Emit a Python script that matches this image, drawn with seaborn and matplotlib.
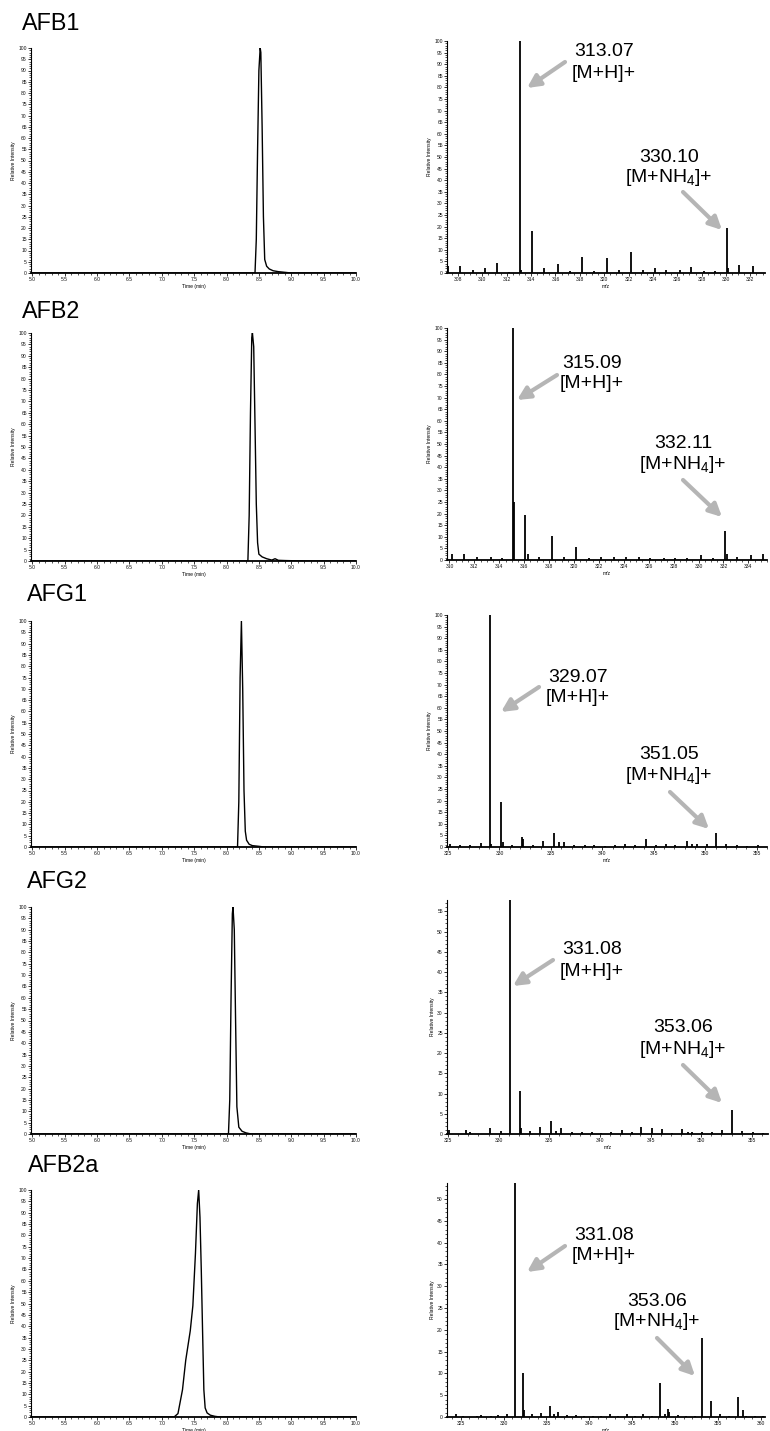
import numpy as np
import pandas as pd
import matplotlib
matplotlib.use("Agg")
import matplotlib.pyplot as plt
import seaborn as sns
from matplotlib.ticker import MultipleLocator, FormatStrFormatter

W, H = 770, 1431

compounds = ["AFB1", "AFB2", "AFG1", "AFG2", "AFB2a"]

# --- extracted ion chromatograms (time in min, relative intensity in %) ---
afb1_time = [5.0, 8.44, 8.46, 8.48, 8.50, 8.52, 8.53, 8.55, 8.57, 8.59, 8.62, 8.66, 8.72, 8.80, 8.90, 9.00, 10.0]
afb1_int = [0, 0, 15, 55, 90, 100, 98, 65, 25, 6, 3, 1.8, 1.0, 0.6, 0.3, 0, 0]

afb2_time = [5.0, 8.33, 8.35, 8.37, 8.39, 8.40, 8.42, 8.44, 8.46, 8.48, 8.50, 8.55, 8.62, 8.70, 8.75, 8.80, 8.90, 9.20, 10.0]
afb2_int = [0, 0, 20, 65, 98, 100, 94, 60, 25, 8, 3, 1.8, 1.0, 0.4, 1.0, 0.3, 0.2, 0, 0]

afg1_time = [5.0, 8.17, 8.19, 8.21, 8.23, 8.25, 8.27, 8.29, 8.31, 8.35, 8.40, 8.50, 8.58, 10.0]
afg1_int = [0, 0, 20, 75, 100, 70, 25, 7, 3, 1.2, 0.6, 0.3, 0, 0]

afg2_time = [5.0, 8.03, 8.05, 8.07, 8.09, 8.10, 8.12, 8.14, 8.16, 8.19, 8.24, 8.30, 8.38, 10.0]
afg2_int = [0, 0, 15, 60, 97, 100, 90, 50, 12, 3, 1.2, 0.5, 0, 0]

afb2a_time = [5.0, 7.19, 7.25, 7.32, 7.37, 7.44, 7.48, 7.52, 7.55, 7.57, 7.59, 7.61, 7.63, 7.65, 7.67, 7.70, 7.75, 7.82, 7.90, 10.0]
afb2a_int = [0, 0, 1.5, 12, 25, 38, 49, 72, 94, 100, 88, 65, 38, 12, 4, 1.8, 0.8, 0.3, 0, 0]

# --- mass spectra (m/z, relative intensity in %) ---
afb1_mz = [307.2, 308.2, 309.2, 310.2, 311.2, 312.2, 313.1, 313.2, 314.1, 315.1, 316.2, 317.2, 318.2,
           319.2, 320.2, 321.2, 322.2, 323.2, 324.2, 325.1, 326.2, 327.1, 328.2, 329.1, 330.1, 330.2,
           331.1, 332.2]
afb1_ab = [2.9, 3, 1.5, 2, 4.5, 0.5, 100, 1.5, 18, 2, 4, 1, 7,
           0.8, 6.5, 1.5, 9, 1.5, 2, 1.5, 1.5, 2.5, 1, 1, 19.5, 2,
           3.5, 3]

afb2_mz = [310.2, 311.2, 312.2, 313.3, 314.2, 315.1, 315.15, 316.1, 316.3, 317.2, 318.2, 319.2, 320.2,
           321.2, 322.2, 323.2, 324.2, 325.2, 326.1, 327.2, 328.1, 329.1, 330.2, 331.2, 332.1, 332.3,
           333.1, 334.2, 335.2]
afb2_ab = [2.4, 2.4, 1.5, 1.5, 1, 100, 25, 19.5, 2.5, 1.5, 10.5, 1.5, 5.5,
           1, 1.5, 1.5, 1.5, 1.5, 0.8, 1, 1, 1, 2, 1, 12.5, 2.5,
           1.5, 2, 2.5]

afg1_mz = [325.2, 326.2, 327.1, 328.2, 329.1, 329.2, 330.1, 330.3, 331.2, 332.2, 332.3, 333.3, 334.2,
           335.3, 335.8, 336.3, 337.2, 338.3, 339.2, 340.3, 341.2, 342.2, 343.2, 344.2, 345.2, 346.2,
           347.1, 348.2, 348.7, 349.2, 350.2, 351.0, 352.0, 353.1, 354.1, 355.1]
afg1_ab = [1.5, 1, 1, 1.8, 100, 1.5, 19.5, 2, 1, 4.5, 3.5, 1, 2.5,
           6, 2.2, 2.2, 1, 0.8, 0.8, 0.5, 1, 1.2, 1, 3.5, 1, 1.5,
           0.8, 2.5, 1.2, 1.5, 1.2, 6, 1.2, 0.8, 0.5, 1]

afg2_mz = [325.1, 326.8, 327.2, 329.1, 330.2, 331.1, 332.1, 332.2, 333.1, 334.1, 335.2, 335.7, 336.2,
           337.2, 338.2, 339.2, 340.1, 341.1, 342.2, 343.2, 344.1, 345.1, 346.1, 347.1, 348.1, 348.7,
           349.1, 350.1, 351.1, 352.1, 353.0, 354.0, 355.1, 356.1]
afg2_ab = [1, 1, 0.6, 1.5, 0.8, 100, 10.5, 1.5, 0.8, 1.8, 3.3, 0.8, 1.5,
           0.6, 0.6, 0.6, 0.3, 0.6, 1, 0.5, 1.7, 1.5, 1.2, 0.3, 1.2, 0.6,
           0.5, 0.5, 0.6, 1, 5.9, 0.8, 0.5, 0.3]

afb2a_mz = [324.4, 325.3, 326.9, 327.4, 328.5, 329.4, 330.4, 331.3, 332.3, 332.4, 333.3, 334.4, 335.4,
            335.9, 336.4, 337.4, 338.4, 339.4, 340.4, 341.4, 342.4, 343.4, 344.4, 345.3, 346.3, 347.3,
            348.2, 348.8, 349.2, 349.3, 350.4, 351.3, 352.3, 353.2, 354.2, 355.2, 356.3, 357.4, 357.9,
            358.3, 359.3, 360.3]
afb2a_ab = [0.6, 0.3, 0.3, 0.5, 0.3, 0.5, 0.8, 100, 10, 1.5, 0.8, 1, 2.5,
            0.8, 1.2, 0.5, 0.5, 0.3, 0.3, 0.3, 0.8, 0.3, 0.8, 0.3, 0.6, 0.3,
            7.9, 0.8, 1.8, 1.2, 0.5, 0.3, 0.3, 18.2, 3.6, 0.6, 0.3, 4.6, 1.5,
            0.3, 0.3, 0.3]

chrom_time = [afb1_time, afb2_time, afg1_time, afg2_time, afb2a_time]
chrom_int = [afb1_int, afb2_int, afg1_int, afg2_int, afb2a_int]
spec_mz = [afb1_mz, afb2_mz, afg1_mz, afg2_mz, afb2a_mz]
spec_ab = [afb1_ab, afb2_ab, afg1_ab, afg2_ab, afb2a_ab]

mh_labels = ["313.07", "315.09", "329.07", "331.08", "331.08"]
nh4_labels = ["330.10", "332.11", "351.05", "353.06", "353.06"]

# --- layout (pixels, from top-left) ---
chrom_boxes = [(31, 48, 356, 273), (31, 333, 356, 561), (31, 621, 356, 847),
               (31, 907, 356, 1134), (31, 1190, 356, 1417)]
spec_boxes = [(447, 41, 765, 273), (447, 328, 767, 560), (447, 615, 767, 847),
              (447, 900, 768, 1134), (447, 1183, 765, 1417)]
spec_xlim = [(307.1, 333.2), (309.8, 335.5), (324.9, 356.0), (324.9, 356.6), (323.4, 360.5)]
spec_ylim = [100, 100, 100, 57.8, 53.7]
spec_xmajor = [2, 2, 5, 5, 5]
spec_xminor = [0.5, 0.5, 1, 1, 1]
title_pos = [(22, 23), (22, 311), (27, 595), (27, 882), (28, 1165)]
mh_text = [(604, 52), (592, 363), (578, 677), (592, 950), (604, 1235)]
mh_arrow = [((565, 62), (527, 88)), ((557, 375), (517, 400)), ((539, 687), (501, 712)),
            ((553, 960), (513, 986)), ((565, 1246), (527, 1272))]
nh4_text = [(669, 157), (683, 443), (669, 755), (683, 1028), (657, 1301)]
nh4_arrow = [((683, 192), (722, 230)), ((683, 480), (722, 517)), ((670, 792), (709, 829)),
             ((683, 1065), (722, 1103)), ((657, 1338), (695, 1376))]


def rect(box):
    l, t, r, b = box
    return [l / W, 1 - b / H, (r - l) / W, (b - t) / H]


def fpos(p):
    return (p[0] / W, 1 - p[1] / H)


def style_axis(ax):
    sns.despine(ax=ax)
    ax.spines["left"].set_linewidth(0.8)
    ax.spines["bottom"].set_linewidth(1.3)
    ax.spines["left"].set_color("black")
    ax.spines["bottom"].set_color("black")
    ax.tick_params(which="major", length=2.2, width=0.6, labelsize=3.6, pad=0.8, colors="#111111")
    ax.tick_params(which="minor", length=1.3, width=0.5, colors="#111111")


sns.set_theme(style="ticks")
plt.rcParams["font.family"] = ["Liberation Sans", "DejaVu Sans"]
plt.rcParams["mathtext.fontset"] = "custom"
plt.rcParams["mathtext.rm"] = "Liberation Sans"
plt.rcParams["text.color"] = "black"
plt.rcParams["axes.labelcolor"] = "black"

fig = plt.figure(figsize=(W / 100, H / 100), dpi=100)
arrow_color = "#b5b5b5"

for i, name in enumerate(compounds):
    # chromatogram
    ax = fig.add_axes(rect(chrom_boxes[i]))
    df = pd.DataFrame({"time": chrom_time[i], "intensity": chrom_int[i]})
    sns.lineplot(data=df, x="time", y="intensity", ax=ax, color="black", lw=1.0,
                 estimator=None, sort=False)
    ax.set_xlim(4.98, 10.0)
    ax.set_ylim(0, 100)
    ax.xaxis.set_major_locator(MultipleLocator(0.5))
    ax.xaxis.set_minor_locator(MultipleLocator(0.1))
    ax.xaxis.set_major_formatter(FormatStrFormatter("%.1f"))
    ax.yaxis.set_major_locator(MultipleLocator(5))
    ax.yaxis.set_minor_locator(MultipleLocator(1))
    ax.set_xlabel("Time (min)", fontsize=3.6, labelpad=1.5)
    ax.set_ylabel("Relative Intensity", fontsize=3.6, labelpad=1.5)
    style_axis(ax)

    # mass spectrum
    ax2 = fig.add_axes(rect(spec_boxes[i]))
    ax2.vlines(spec_mz[i], 0, spec_ab[i], color="black", lw=1.3)
    ax2.set_xlim(*spec_xlim[i])
    ax2.set_ylim(0, spec_ylim[i])
    ax2.xaxis.set_major_locator(MultipleLocator(spec_xmajor[i]))
    ax2.xaxis.set_minor_locator(MultipleLocator(spec_xminor[i]))
    ax2.yaxis.set_major_locator(MultipleLocator(5))
    ax2.yaxis.set_minor_locator(MultipleLocator(1))
    ax2.set_xlabel("m/z", fontsize=3.6, labelpad=1.5)
    ax2.set_ylabel("Relative Intensity", fontsize=3.6, labelpad=1.5)
    style_axis(ax2)

    # compound name
    fig.text(*fpos(title_pos[i]), name, fontsize=16.8, ha="left", va="center", color="black")

    # ion annotations
    for lab, adduct, tpos, arr in [(mh_labels[i], "[M+H]+", mh_text[i], mh_arrow[i]),
                                   (nh4_labels[i], r"[M+NH$\mathregular{_4}$]+", nh4_text[i], nh4_arrow[i])]:
        x0, y0 = fpos(tpos)
        fig.text(x0, y0, lab, fontsize=14, ha="center", va="center", color="black")
        fig.text(x0, y0 - 21 / H, adduct, fontsize=14, ha="center", va="center", color="black")
        fig.add_artist(matplotlib.patches.FancyArrowPatch(
            fpos(arr[0]), fpos(arr[1]), transform=fig.transFigure,
            arrowstyle="-|>", mutation_scale=19, lw=3, color=arrow_color,
            shrinkA=0, shrinkB=0))

fig.savefig("out.png", dpi=100)
